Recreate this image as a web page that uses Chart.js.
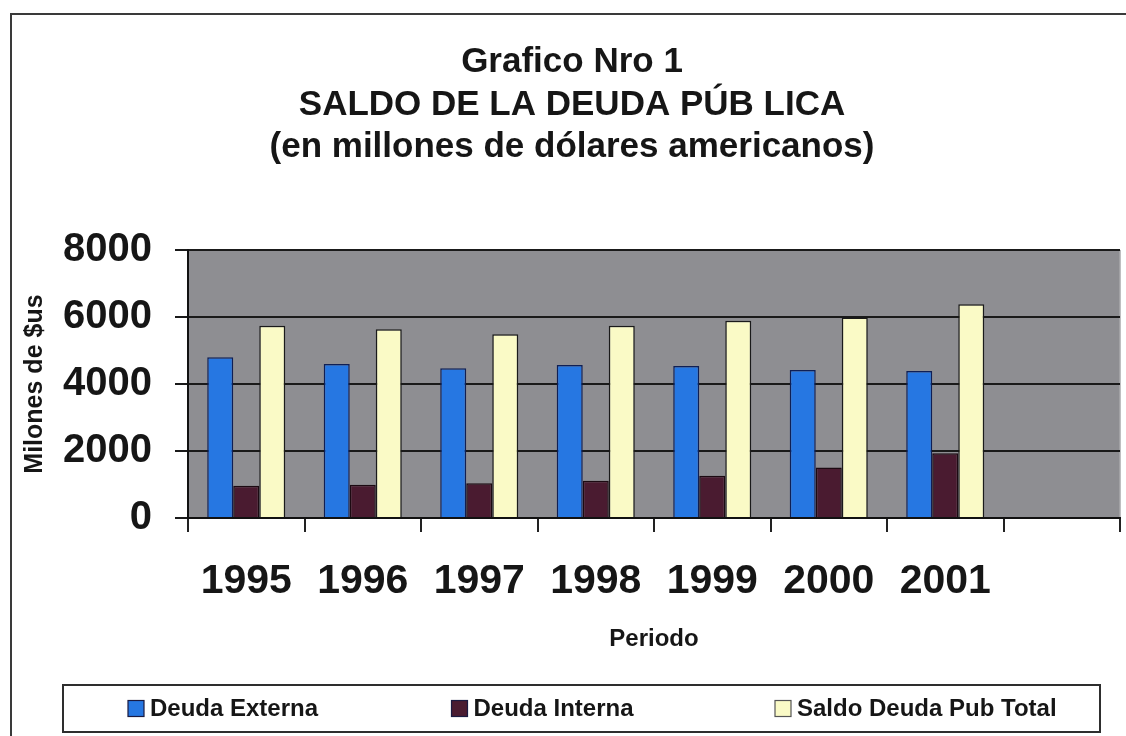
<!DOCTYPE html>
<html>
<head>
<meta charset="utf-8">
<script src="https://cdn.jsdelivr.net/npm/chart.js@4/dist/chart.umd.min.js"></script>
<style>
  html, body { margin: 0; padding: 0; background: #ffffff; }
  #wrap { width: 1126px; height: 736px; }
</style>
</head>
<body>
<div id="wrap"><canvas id="c" width="1126" height="736"></canvas></div>
<script>
// Periods (the last slot is left empty on purpose)
const categories = ['1995', '1996', '1997', '1998', '1999', '2000', '2001', ''];

// Stock of public debt, millions of US dollars
const deudaExterna = [4800, 4600, 4470, 4570, 4540, 4420, 4390, null];
const deudaInterna = [960, 990, 1040, 1110, 1260, 1510, 1930, null];
const saldoTotal   = [5740, 5640, 5490, 5740, 5890, 5990, 6380, null];

const seriesNames = ['Deuda Externa', 'Deuda Interna', 'Saldo Deuda Pub Total'];

const titleLines = ['Grafico Nro 1', 'SALDO DE LA DEUDA PÚB LICA', '(en millones de dólares americanos)'];
const yAxisTitle = 'Milones de $us';
const xAxisTitle = 'Periodo';

const yMin = 0, yMax = 8000, yStep = 2000;

const FONT = '"Liberation Sans", Arial, sans-serif';
const INK = '#161616';

// Page frame, gray plot background and a boxed legend row
const framePlugin = {
  id: 'frame',
  beforeDraw(chart) {
    const ctx = chart.ctx;
    const a = chart.chartArea;
    ctx.save();
    ctx.fillStyle = '#ffffff';
    ctx.fillRect(0, 0, chart.width, chart.height);
    // outer frame
    ctx.strokeStyle = '#3a3a3a';
    ctx.lineWidth = 2;
    ctx.beginPath();
    ctx.moveTo(11, chart.height + 2);
    ctx.lineTo(11, 14);
    ctx.lineTo(chart.width + 2, 14);
    ctx.stroke();
    // plot background
    ctx.fillStyle = '#8e8e92';
    ctx.fillRect(a.left, a.top, a.right - a.left, a.bottom - a.top);
    ctx.strokeStyle = '#a9a9ab';
    ctx.lineWidth = 1.5;
    ctx.beginPath();
    ctx.moveTo(a.right, a.top);
    ctx.lineTo(a.right, a.bottom);
    ctx.stroke();
    ctx.restore();
  },
  afterDraw(chart) {
    const ctx = chart.ctx;
    const boxL = 63, boxR = chart.width - 26, boxT = 685, boxB = 732;
    ctx.save();
    ctx.strokeStyle = '#2e2e2e';
    ctx.lineWidth = 2;
    ctx.strokeRect(boxL, boxT, boxR - boxL, boxB - boxT);
    const midY = (boxT + boxB) / 2;
    const step = 323.5;
    ctx.font = 'bold 24px ' + FONT;
    ctx.textBaseline = 'middle';
    ctx.textAlign = 'left';
    chart.data.datasets.forEach((ds, i) => {
      const x = boxL + 65 + i * step;
      ctx.fillStyle = ds.backgroundColor;
      ctx.fillRect(x, midY - 8, 16, 16);
      ctx.strokeStyle = i === 2 ? '#555555' : '#1a1a40';
      ctx.lineWidth = 1.2;
      ctx.strokeRect(x, midY - 8, 16, 16);
      ctx.fillStyle = INK;
      ctx.fillText(ds.label, x + 22, midY + 1);
    });
    ctx.restore();
  }
};

new Chart(document.getElementById('c'), {
  type: 'bar',
  data: {
    labels: categories,
    datasets: [
      { label: seriesNames[0], data: deudaExterna, backgroundColor: '#2677e2', borderColor: '#0f1f55', borderWidth: 1.5 },
      { label: seriesNames[1], data: deudaInterna, backgroundColor: '#4a1b30', borderColor: '#1c0a12', borderWidth: 1.5 },
      { label: seriesNames[2], data: saldoTotal,   backgroundColor: '#fafac6', borderColor: '#1a1a1a', borderWidth: 1.5 }
    ]
  },
  options: {
    responsive: false,
    animation: false,
    devicePixelRatio: 1,
    layout: { padding: { left: 24, right: 6, top: 0, bottom: 71 } },
    datasets: { bar: { barPercentage: 1.0, categoryPercentage: 0.67 } },
    plugins: {
      legend: { display: false },
      tooltip: { enabled: false },
      title: {
        display: true,
        text: titleLines,
        color: INK,
        font: { family: FONT, size: 35, weight: 'bold', lineHeight: 1.22 },
        padding: { top: 41, bottom: 81 }
      }
    },
    scales: {
      x: {
        offset: true,
        grid: { offset: true, drawOnChartArea: false, drawTicks: true, tickLength: 14, color: '#222222', lineWidth: 2 },
        border: { display: true, color: '#111111', width: 2 },
        ticks: { color: INK, padding: 25, maxRotation: 0, autoSkip: false, font: { family: FONT, size: 41, weight: 'bold' } },
        title: { display: true, text: xAxisTitle, color: INK, padding: { top: 0, bottom: 11 }, font: { family: FONT, size: 24, weight: 'bold' } },
        afterFit(scale) { scale.height = 147; }
      },
      y: {
        min: yMin,
        max: yMax,
        ticks: {
          stepSize: yStep, color: INK, padding: 23,
          font: { family: FONT, size: 40, weight: 'bold' },
          callback: (v) => String(v)
        },
        grid: { color: '#1a1a1a', lineWidth: 2, drawTicks: true, tickLength: 13 },
        border: { display: true, color: '#111111', width: 2 },
        title: { display: true, text: yAxisTitle, color: INK, padding: { top: -4, bottom: 0 }, font: { family: FONT, size: 25, weight: 'bold' } },
        afterFit(scale) { scale.width = 164; }
      }
    }
  },
  plugins: [framePlugin]
});
</script>
</body>
</html>
